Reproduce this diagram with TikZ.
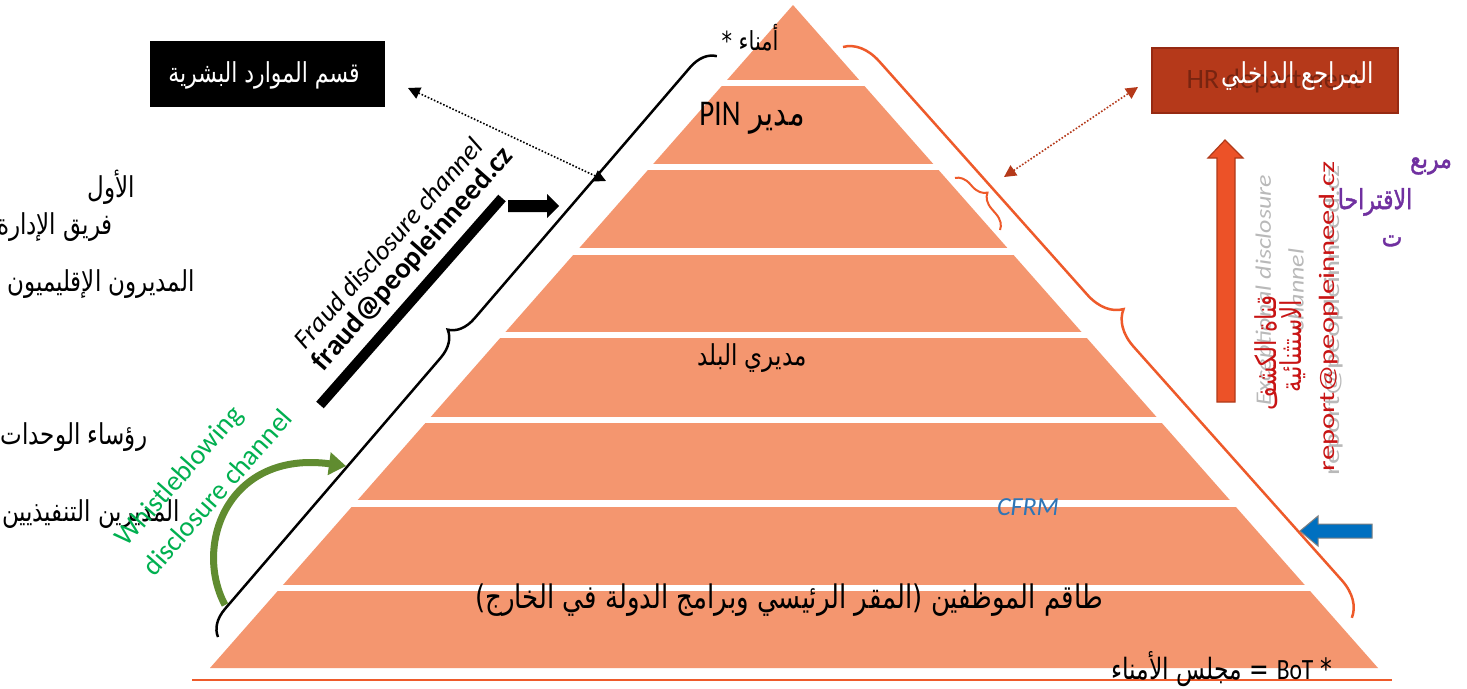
\documentclass[tikz,border=0pt]{standalone}
\usepackage{fontspec}
\setmainfont{Carlito}
\newfontfamily\arfont[Script=Arabic]{DejaVu Sans}
\newfontfamily\arboldfont[Script=Arabic,FakeBold=1.5]{DejaVu Sans}
\TeXXeTstate=1
\usetikzlibrary{arrows.meta,decorations.pathreplacing}
\definecolor{pyr}{RGB}{244,150,111}
\definecolor{orng}{RGB}{238,90,42}
\definecolor{upar}{RGB}{236,82,40}
\definecolor{upard}{RGB}{176,58,26}
\definecolor{audit}{RGB}{181,57,26}
\definecolor{auditd}{RGB}{150,42,18}
\definecolor{ghostred}{RGB}{120,36,16}
\definecolor{redtxt}{RGB}{200,20,20}
\definecolor{purp}{RGB}{112,48,160}
\definecolor{gtxt}{RGB}{0,176,80}
\definecolor{garr}{RGB}{96,140,48}
\definecolor{barr}{RGB}{0,112,192}
\definecolor{cfrm}{RGB}{46,117,182}
\definecolor{ghost}{RGB}{185,185,185}
\newcommand{\artxt}[1]{\scalebox{1}[1.25]{\arfont\beginR #1\endR}}
\newcommand{\arbtxt}[1]{\scalebox{1}[1.25]{\arboldfont\beginR #1\endR}}
\newcommand{\fsz}[1]{\fontsize{#1}{#1}\selectfont}
\begin{document}
\begin{tikzpicture}[x=1pt,y=-1pt,
  txt/.style={inner sep=0pt},
  arlbl/.style={inner sep=0pt, font=\fsz{23}},
  bracestyle/.style={decorate, line width=2.5pt},
  dotarrow/.style={line width=1.6pt, dash pattern=on 1.6pt off 1.8pt,
     {Triangle[length=12pt,width=12pt]}-{Triangle[length=12pt,width=12pt]}}]
\useasboundingbox (0,0) rectangle (1467,688);
\fill[white] (0,0) rectangle (1467,688);

% pyramid
\fill[pyr] (793,5) -- (1378,668) -- (210,668) -- cycle;
\foreach \a/\b in {80/86,164/170,248/255,332/338,417/423,500/507,585/591}
  \fill[white] (150,\a) rectangle (1450,\b);

% bottom line
\coordinate (bl) at (192,680);
\coordinate (br) at (1392,680);
\draw[orng, line width=2pt] (bl) -- (br);

% braces
\coordinate (lbA) at (218,637);
\coordinate (lbB) at (717,56);
\draw[bracestyle, black, decoration={brace,amplitude=26pt,aspect=0.5}] (lbA) -- (lbB);
\coordinate (rbA) at (843,47);
\coordinate (rbB) at (1352,618);
\draw[bracestyle, orng, decoration={brace,amplitude=35pt,aspect=0.5}] (rbA) -- (rbB);
\coordinate (sbA) at (955,178);
\coordinate (sbB) at (1000,230);
\draw[bracestyle, orng, line width=2pt, decoration={brace,amplitude=15pt,aspect=0.47}] (sbA) -- (sbB);

% boxes
\node[fill=black, minimum width=235pt, minimum height=66pt, inner sep=0pt] (hrbox) at (267.5,74) {};
\node[txt, text=white, font=\fsz{22}] (hrtxt) at (264,75) {\artxt{قسم الموارد البشرية}};
\node[fill=audit, draw=auditd, line width=1.5pt, minimum width=246pt, minimum height=65pt, inner sep=0pt] (audbox) at (1275,80.5) {};
\node[txt, text=ghostred, font=\fsz{28}] (hrghost) at (1274,81) {HR department};
\node[txt, text=white, font=\fsz{23}] (audtxt) at (1298,76) {\artxt{المراجع الداخلي}};

% dotted double arrows
\coordinate (d1a) at (408,88);
\coordinate (d1b) at (606,181);
\draw[dotarrow, black] (d1a) -- (d1b);
\coordinate (d2a) at (1004,177);
\coordinate (d2b) at (1138,87);
\draw[dotarrow, audit] (d2a) -- (d2b);

% black bar and block arrow
\coordinate (bar1) at (320,405);
\coordinate (bar2) at (502,198);
\draw[line width=10pt] (bar1) -- (bar2);
\fill (508,200) -- (547,200) -- (547,194) -- (559,206) -- (547,218) -- (547,212) -- (508,212) -- cycle;

% green curved arrow
\coordinate (g1) at (225,605);
\coordinate (g2) at (346,466);
\draw[garr, line width=7pt, -{Triangle[length=17pt,width=22pt]}] (g1) .. controls (193,545) and (228,450) .. (g2);

% orange up arrow
\filldraw[fill=upar, draw=upard, line width=1.2pt] (1217,402) -- (1217,158) -- (1208,158) -- (1225,140) -- (1243,158) -- (1235,158) -- (1235,402) -- cycle;

% blue left arrow
\filldraw[fill=barr, draw=gray, line width=1pt] (1372,524) -- (1318,524) -- (1318,516) -- (1300,531) -- (1318,546) -- (1318,538) -- (1372,538) -- cycle;

% pyramid texts
\node[txt, font=\fsz{21}] (p1) at (750,38) {\artxt{أمناء *}};
\node[txt, font=\fsz{29}] (p2) at (752,118) {\artxt{مدير \beginL{\rmfamily PIN}\endL}};
\node[arlbl] (p5) at (752,358) {\artxt{مديري البلد}};
\node[txt, font=\fsz{26}] (p8) at (789,600) {\artxt{طاقم الموظفين (المقر الرئيسي وبرامج الدولة في الخارج)}};
\node[txt, font=\fsz{23.5}] (bot) at (1222,669) {\artxt{* \beginL{\rmfamily BoT}\endL{} = مجلس الأمناء}};
\node[txt, text=cfrm, font=\fsz{26}\itshape] (cfrm) at (1028,507) {CFRM};

% left labels
\node[arlbl] (l1) at (111,187) {\artxt{الأول}};
\node[arlbl] (l2) at (55,227) {\artxt{فريق الإدارة}};
\node[arlbl] (l3) at (101,284) {\artxt{المديرون الإقليميون}};
\node[arlbl] (l4) at (74,437) {\artxt{رؤساء الوحدات}};
\node[arlbl] (l5) at (91,514) {\artxt{المديرين التنفيذيين}};

% left rotated texts
\node[txt, rotate=48.5, font=\fsz{27}\itshape] (fdc) at (388,243) {Fraud disclosure channel};
\node[txt, rotate=48.5, font=\fsz{29}\bfseries] (fmail) at (413,259) {fraud@peopleinneed.cz};
\node[txt, rotate=48.5, text=gtxt, font=\fsz{28}] (wb1) at (180,477) {Whistleblowing};
\node[txt, rotate=48.5, text=gtxt, font=\fsz{28}] (wb2) at (217,492) {disclosure channel};

% right rotated texts
\node[txt, rotate=90, text=ghost, font=\fsz{22}\itshape] (gh1) at (1265,290) {\scalebox{1.18}[1]{Exceptional disclosure}};
\node[txt, rotate=90, text=ghost, font=\fsz{22}\itshape] (gh2) at (1296,290) {\scalebox{1.18}[1]{channel}};
\node[txt, rotate=90, text=ghost, font=\fsz{22}] (gh3) at (1334,320) {\scalebox{1.39}[1]{report@peopleinneed.cz}};
\node[txt, rotate=90, text=redtxt, font=\fsz{23}] (ra1) at (1266,353) {\artxt{قناة الكشف}};
\node[txt, rotate=90, text=redtxt, font=\fsz{23}] (ra2) at (1293,346) {\artxt{الاستثنائية}};
\node[txt, rotate=90, text=redtxt, font=\fsz{22}] (rmail) at (1329,316) {\scalebox{1.39}[1]{report@peopleinneed.cz}};

% purple
\node[txt, text=purp, font=\fsz{22}] (pu1) at (1431,166) {\arbtxt{مربع}};
\node[txt, text=purp, font=\fsz{22}] (pu2) at (1375,202) {\arbtxt{الاقتراحا}};
\node[txt, text=purp, font=\fsz{22}] (pu3) at (1392,241) {\arbtxt{ت}};
\end{tikzpicture}
\end{document}
